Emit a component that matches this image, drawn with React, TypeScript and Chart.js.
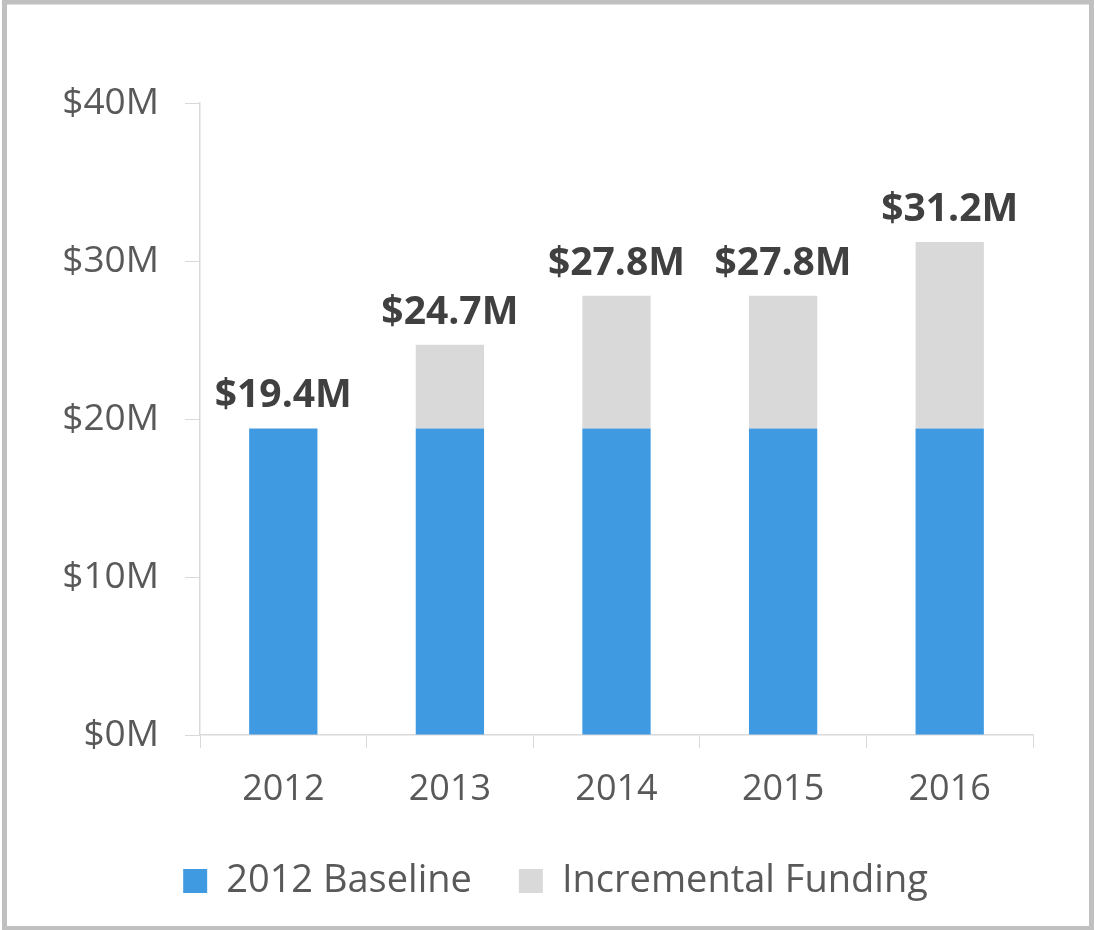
import React, { useEffect, useRef } from "react";
import { Chart, registerables } from "chart.js";

Chart.register(...registerables);

const categories = ["2012", "2013", "2014", "2015", "2016"];
const baselineValues = [19.4, 19.4, 19.4, 19.4, 19.4];
const incrementalValues = [0, 5.3, 8.4, 8.4, 11.8];
const totalLabels = ["$19.4M", "$24.7M", "$27.8M", "$27.8M", "$31.2M"];
const yTicks = [0, 10, 20, 30, 40];

const FONT = "'Open Sans', 'Noto Sans', sans-serif";

const framePlugin = {
  id: "frame",
  beforeDraw(chart: any) {
    const ctx = chart.ctx;
    ctx.save();
    ctx.fillStyle = "#ffffff";
    ctx.fillRect(0, 0, chart.width, chart.height);
    ctx.strokeStyle = "#c0c0c0";
    ctx.lineWidth = 5;
    ctx.strokeRect(4.5, 2, chart.width - 7, chart.height - 3.5);
    ctx.restore();
  },
};

const legendShiftPlugin = {
  id: "legendShift",
  afterLayout(chart: any) {
    const lg = chart.legend;
    if (lg) {
      lg.left += 39;
      lg.right += 39;
    }
  },
};

const totalsPlugin = {
  id: "totals",
  afterDatasetsDraw(chart: any) {
    const ctx = chart.ctx;
    const yScale = chart.scales.y;
    const xScale = chart.scales.x;
    ctx.save();
    ctx.font = `bold 39px ${FONT}`;
    ctx.fillStyle = "#404040";
    ctx.textAlign = "center";
    ctx.textBaseline = "alphabetic";
    categories.forEach((_, i) => {
      const total = baselineValues[i] + incrementalValues[i];
      const x = xScale.getPixelForValue(i);
      const y = yScale.getPixelForValue(total);
      ctx.fillText(totalLabels[i], x, y - 21);
    });
    ctx.restore();
  },
};

export default function App() {
  const canvasRef = useRef<HTMLCanvasElement | null>(null);

  useEffect(() => {
    if (!canvasRef.current) return;
    const chart = new Chart(canvasRef.current, {
      type: "bar",
      data: {
        labels: categories,
        datasets: [
          {
            label: "2012 Baseline",
            data: baselineValues,
            backgroundColor: "#409AE1",
            borderWidth: 0,
          },
          {
            label: "Incremental Funding",
            data: incrementalValues,
            backgroundColor: "#D9D9D9",
            borderWidth: 0,
          },
        ],
      },
      options: {
        responsive: false,
        animation: false,
        devicePixelRatio: 1,
        layout: { padding: { left: 0, right: 61, top: 103, bottom: 20 } },
        datasets: { bar: { categoryPercentage: 1, barPercentage: 0.41 } },
        plugins: {
          tooltip: { enabled: false },
          legend: {
            position: "bottom",
            labels: {
              boxWidth: 24,
              boxHeight: 24,
              padding: 47,
              color: "#595959",
              font: { family: FONT, size: 38 },
            },
          },
        },
        scales: {
          x: {
            stacked: true,
            grid: {
              offset: true,
              drawOnChartArea: false,
              drawTicks: true,
              tickLength: 13,
              color: "#d9d9d9",
            },
            border: { color: "#d9d9d9", width: 1.5 },
            ticks: {
              color: "#595959",
              font: { family: FONT, size: 36 },
              padding: 20,
            },
            afterFit(scale: any) {
              scale.height = 80;
            },
          },
          y: {
            stacked: true,
            min: 0,
            max: 40,
            afterBuildTicks(scale: any) {
              scale.ticks = yTicks.map((v) => ({ value: v }));
            },
            grid: {
              drawOnChartArea: false,
              drawTicks: true,
              tickLength: 15,
              color: "#d9d9d9",
            },
            border: { color: "#d9d9d9", width: 1.5 },
            ticks: {
              color: "#595959",
              font: { family: FONT, size: 37 },
              padding: 26,
              callback: (v: any) => `$${v}M`,
            },
            afterFit(scale: any) {
              scale.width = 200;
            },
          },
        },
      },
      plugins: [framePlugin, legendShiftPlugin, totalsPlugin],
    });
    return () => chart.destroy();
  }, []);

  return (
    <div style={{ position: "fixed", left: 0, top: 0, width: 1094, height: 930 }}>
      <canvas ref={canvasRef} width={1094} height={930} style={{ width: 1094, height: 930, display: "block" }} />
    </div>
  );
}
